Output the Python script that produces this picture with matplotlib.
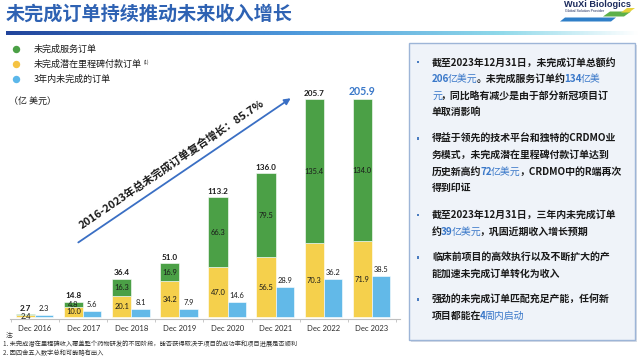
import matplotlib
matplotlib.use('Agg')
import matplotlib.pyplot as plt
import numpy as np
from matplotlib.patches import Rectangle, Circle, Polygon, FancyArrowPatch
from matplotlib.colors import LinearSegmentedColormap

plt.rcParams['font.family'] = ['Noto Sans CJK SC', 'DejaVu Sans']

# ---------------- data ----------------
categories = ['Dec 2016', 'Dec 2017', 'Dec 2018', 'Dec 2019',
              'Dec 2020', 'Dec 2021', 'Dec 2022', 'Dec 2023']
milestone = [2.4, 10.0, 20.1, 34.2, 47.0, 56.5, 70.3, 71.9]          # 未完成潜在里程碑付款订单
service = [0.3, 4.8, 16.3, 16.9, 66.3, 79.5, 135.4, 134.0]           # 未完成服务订单
service_shown = [False, True, True, True, True, True, True, True]
totals = [2.7, 14.8, 36.4, 51.0, 113.2, 136.0, 205.7, 205.9]
three_year = [2.3, 5.6, 8.1, 7.9, 14.6, 28.9, 36.2, 38.5]             # 3年内未完成的订单

legend_labels = ['未完成服务订单', '未完成潜在里程碑付款订单', '3年内未完成的订单']
title = '未完成订单持续推动未来收入增长'
unit_label = '（亿 美元）'
cagr_text = '2016-2023年总未完成订单复合增长：85.7%'

GREEN = '#4BA046'
YELLOW = '#F5D04C'
BLUE = '#62B9E8'
TXT = '#1A1A1A'
HBLUE = '#3A78C9'

W, H = 640, 357
fig = plt.figure(figsize=(6.4, 3.57), dpi=100)
fig.patch.set_facecolor('white')
renderer = fig.canvas.get_renderer()

# overlay axes in pixel coordinates (top-left origin) for decorations
ov = fig.add_axes([0, 0, 1, 1], zorder=0)
ov.patch.set_alpha(0)

# gradient rule under title
cmap = LinearSegmentedColormap.from_list(
    'g', [(0, '#22459C'), (0.45, '#4D98DB'), (0.78, '#8FD9EA'), (1.0, '#FFFFFF')])
grad = np.linspace(0, 1, 400).reshape(1, -1)
ov.imshow(grad, cmap=cmap, extent=(6, 640, 35, 31), aspect='auto', zorder=1)
ov.set_xlim(0, W)
ov.set_ylim(H, 0)
ov.axis('off')

# title
ov.text(6, 14, title, fontsize=13.8, fontweight='bold', color='#2E62B3',
        ha='left', va='center')

# logo
ov.text(597, 4.2, 'WuXi Biologics', fontsize=6.6, fontweight='bold', color='#1B2A5C',
        family=['Liberation Sans', 'DejaVu Sans'], ha='center', va='center')
ov.text(585, 11, 'Global Solution Provider', fontsize=2.6, color='#1B2A5C',
        family=['Liberation Sans', 'DejaVu Sans'], ha='center', va='center')
ov.add_patch(Polygon([(560, 21.5), (611, 21.5), (616, 17.5), (565, 17.5)],
                     closed=True, color='#2F7FC8', lw=0))
ov.add_patch(Polygon([(603, 16.5), (624, 16.5), (631, 11.5), (610, 11.5)],
                     closed=True, color='#5DB04A', lw=0))
ov.add_patch(Polygon([(621, 12.5), (629, 12.5), (635, 8), (627, 8)],
                     closed=True, color='#E6D23A', lw=0))

# legend
leg_colors = [GREEN, '#F5C342', '#5BB7EA']
leg_y = [49.5, 64.5, 79.5]
leg_texts = []
for c, lab, yy in zip(leg_colors, legend_labels, leg_y):
    ov.add_patch(Circle((16.5, yy), 3.7, color=c, lw=0))
    leg_texts.append(ov.text(34, yy, lab, fontsize=6.5, color=TXT, ha='left', va='center'))
bb = leg_texts[1].get_window_extent(renderer)
ov.text(34 + bb.width + 1.5, leg_y[1] - 2.5, '(1)', fontsize=3.2, color=TXT,
        ha='left', va='center')
ov.text(9, 101.5, unit_label, fontsize=6.5, color=TXT, ha='left', va='center')

# CAGR arrow & text
ov.add_patch(FancyArrowPatch((76, 244), (293, 96.7), arrowstyle='-|>',
                             mutation_scale=9, color='#3A6FC4', lw=1.3))
ang = np.degrees(np.arctan2(244 - 96.7, 293 - 76))
ov.text(171, 164, cagr_text, fontsize=7.9, fontweight='bold', color=TXT,
        rotation=ang, rotation_mode='anchor', ha='center', va='center')

# footnotes
ov.text(6, 335.5, '注:', fontsize=4.5, color='#333333', ha='left', va='center')
ov.text(3, 344.5, '1. 未完成潜在里程碑收入覆盖整个药物研发的不同阶段，能否获得取决于项目的成功率和项目进展是否顺利',
        fontsize=4.5, color='#333333', ha='left', va='center')
ov.text(3, 353, '2. 因四舍五入数字总和可能略有出入', fontsize=4.5, color='#333333',
        ha='left', va='center')

# right panel
ov.add_patch(Rectangle((411, 45), 226, 297, facecolor='#D9DEE6', lw=0, zorder=1))
ov.add_patch(Rectangle((409, 43), 226, 297, facecolor='#EFF3F9', edgecolor='#9DB5D7',
                       lw=1.0, zorder=2))

K = TXT
panel = [
    [
        [('截至2023年12月31日，未完成订单总额约', K, 'bold')],
        [('206', HBLUE, 'bold'), ('亿美元', HBLUE, 'normal'), ('。未完成服务订单约', K, 'bold'),
         ('134', HBLUE, 'bold'), ('亿美', HBLUE, 'normal')],
        [('元', HBLUE, 'normal'), ('，同比略有减少是由于部分新冠项目订', K, 'bold')],
        [('单取消影响', K, 'bold')],
    ],
    [
        [('得益于领先的技术平台和独特的CRDMO业', K, 'bold')],
        [('务模式，未完成潜在里程碑付款订单达到', K, 'bold')],
        [('历史新高约', K, 'bold'), ('72', HBLUE, 'bold'), ('亿美元', HBLUE, 'normal'),
         ('，CRDMO中的R端再次', K, 'bold')],
        [('得到印证', K, 'bold')],
    ],
    [
        [('截至2023年12月31日，三年内未完成订单', K, 'bold')],
        [('约', K, 'bold'), ('39', HBLUE, 'bold'), ('亿美元', HBLUE, 'normal'),
         ('，巩固近期收入增长预期', K, 'bold')],
    ],
    [
        [('临床前项目的高效执行以及不断扩大的产', K, 'bold')],
        [('能加速未完成订单转化为收入', K, 'bold')],
    ],
    [
        [('强劲的未完成订单匹配充足产能，任何新', K, 'bold')],
        [('项目都能在', K, 'bold'), ('4', HBLUE, 'bold'), ('周内启动', HBLUE, 'normal')],
    ],
]
para_y = [62.3, 138.3, 215, 257.3, 299.3]
line_h = 16.7
psize = 7.15
for py, para in zip(para_y, panel):
    ov.add_patch(Rectangle((416.8, py - 1.4), 2.6, 2.6, color='#4A7CC0', lw=0, zorder=3))
    for li, runs in enumerate(para):
        yy = py + li * line_h
        cx = 432
        for s, col, wt in runs:
            t = ov.text(cx, yy, s, fontsize=psize, color=col, fontweight=wt,
                        ha='left', va='center', zorder=4)
            bbr = t.get_window_extent(renderer)
            cx += bbr.width - 1.2

# ---------------- bar chart ----------------
scale = 1.06  # px per unit
top_px, bot_px = 90, 319.3
ax = fig.add_axes([10 / W, 1 - bot_px / H, 390 / W, (bot_px - top_px) / H], zorder=2)
ax.patch.set_alpha(0)
y0 = -2.0 / scale
ax.set_ylim(y0, y0 + (bot_px - top_px) / scale)
ax.set_xlim(-25 / 48.14, (400 - 35) / 48.14)

x = np.arange(len(categories))
bw = 0.40
bw2 = 0.38
ax.bar(x - bw, milestone, width=bw, align='edge', color=YELLOW, edgecolor='white', lw=0.4)
ax.bar(x - bw, service, bottom=milestone, width=bw, align='edge', color=GREEN,
       edgecolor='white', lw=0.4)
ax.bar(x, three_year, width=bw2, align='edge', color=BLUE, edgecolor='white', lw=0.4)

lab_fam = ['Lato', 'DejaVu Sans']
for i in range(len(categories)):
    cxs = x[i] - bw / 2
    ax.text(cxs, milestone[i] / 2, f'{milestone[i]:.1f}', ha='center', va='center',
            fontsize=5.4, color=TXT, family=lab_fam)
    if service_shown[i]:
        ax.text(cxs, milestone[i] + service[i] / 2, f'{service[i]:.1f}', ha='center',
                va='center', fontsize=5.4, color=TXT, family=lab_fam)
    if i == len(categories) - 1:
        ax.annotate(f'{totals[i]:.1f}', xy=(cxs, totals[i]), xytext=(0, 1.8),
                    textcoords='offset points', ha='center', va='bottom', fontsize=7.6,
                    fontweight='bold', color=HBLUE, family=lab_fam)
    else:
        ax.annotate(f'{totals[i]:.1f}', xy=(cxs, totals[i]), xytext=(0, 1.8),
                    textcoords='offset points', ha='center', va='bottom', fontsize=5.9,
                    fontweight='bold', color=TXT, family=lab_fam)
    ax.annotate(f'{three_year[i]:.1f}', xy=(x[i] + bw2 / 2, three_year[i]), xytext=(0, 2.2),
                textcoords='offset points', ha='center', va='bottom', fontsize=5.4,
                color=TXT, family=lab_fam)

for s in ['top', 'right', 'left']:
    ax.spines[s].set_visible(False)
ax.spines['bottom'].set_color('#BFBFBF')
ax.spines['bottom'].set_linewidth(0.8)
ax.spines['bottom'].set_position(('data', y0))
ax.set_yticks([])
ax.set_xticks(x)
ax.set_xticklabels(categories, fontsize=5.5, color='#2B2B2B', family=lab_fam)
ax.tick_params(axis='x', which='major', length=0, pad=4)
ax.set_xticks(np.arange(-0.5, len(categories), 1), minor=True)
ax.tick_params(axis='x', which='minor', length=2.5, color='#BFBFBF', width=0.6)

fig.savefig('out.png', dpi=100, facecolor='white')
